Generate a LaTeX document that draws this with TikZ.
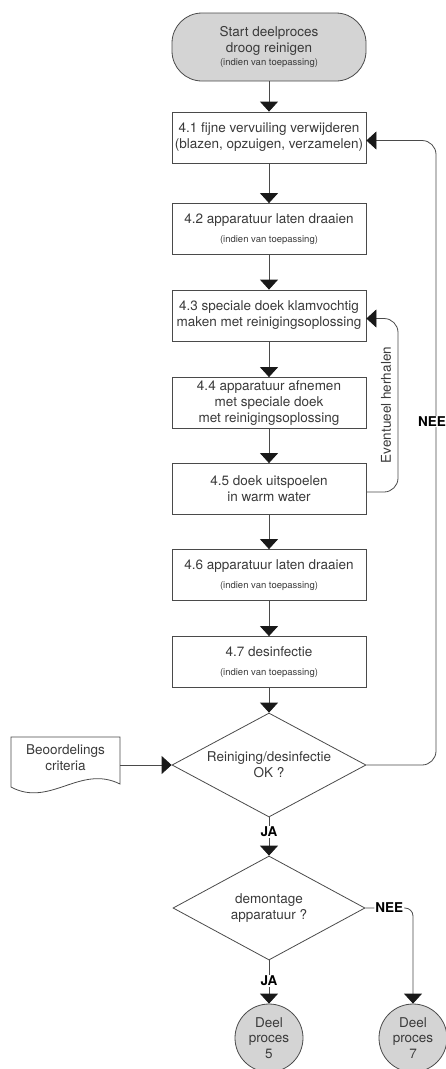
\documentclass[tikz,border=0pt]{standalone}
\usepackage{fontspec}
\setmainfont{TeX Gyre Heros}
\usetikzlibrary{arrows.meta,shapes.geometric}
\definecolor{ink}{HTML}{3A3A3A}
\definecolor{edge}{HTML}{4A4A4A}
\definecolor{shade}{HTML}{D4D4D4}
\newcommand{\smalltxt}[1]{{\fontsize{9.5}{11}\selectfont #1}}
\begin{document}
\begin{tikzpicture}[x=1pt,y=-1pt,
  every node/.style={font=\fontsize{13.5}{16}\selectfont, text=ink},
  stepbox/.style={draw=edge, line width=0.8pt, minimum width=194pt, minimum height=51pt,
    align=center, inner sep=0pt},
  termbox/.style={stepbox, fill=shade, minimum height=68pt, rounded corners=30pt},
  decision/.style={diamond, aspect=1.87, draw=edge, line width=0.8pt, minimum width=194pt,
    minimum height=104pt, inner sep=0pt, align=center},
  endcircle/.style={circle, draw=edge, line width=0.8pt, fill=shade, minimum size=68pt,
    inner sep=0pt, align=center, font=\fontsize{13.5}{15.5}\selectfont},
  flow/.style={draw=edge, line width=0.8pt, -{Triangle[width=18pt,length=10pt,color=black!90]}},
  lbl/.style={fill=white, inner sep=1pt, font=\bfseries\fontsize{13.5}{16}\selectfont, text=black}
]
\useasboundingbox (0,0) rectangle (445,1069);

% main column
\node[termbox] (start) at (269,47) {Start deelproces\\droog reinigen\\[-3pt]\smalltxt{(indien van toepassing)}};
\node[stepbox] (b41) at (269,137.5) {4.1 fijne vervuiling verwijderen\\(blazen, opzuigen, verzamelen)};
\node[stepbox] (b42) at (269,229) {4.2 apparatuur laten draaien\\[3pt]\smalltxt{(indien van toepassing)}};
\node[stepbox] (b43) at (269,315.5) {4.3 speciale doek klamvochtig\\maken met reinigingsoplossing};
\node[stepbox] (b44) at (269,403) {4.4 apparatuur afnemen\\met speciale doek\\met reinigingsoplossing};
\node[stepbox] (b45) at (269,489) {4.5 doek uitspoelen\\in warm water};
\node[stepbox] (b46) at (269,575) {4.6 apparatuur laten draaien\\[3pt]\smalltxt{(indien van toepassing)}};
\node[stepbox] (b47) at (269,662) {4.7 desinfectie\\[3pt]\smalltxt{(indien van toepassing)}};
\node[decision] (d1) at (269,765) {Reiniging/desinfectie\\OK ?};
\node[decision, minimum width=192pt] (d2) at (269,908) {demontage\\apparatuur ?};
\node[endcircle] (c5) at (269,1038) {Deel\\proces\\5};
\node[endcircle] (c7) at (413,1038) {Deel\\proces\\7};

% assessment criteria document
\node[align=center] (doc) at (65.5,758) {Beoordelings\\criteria};
\draw[edge, line width=0.8pt] (11,737) -- (120,737) -- (120,784)
  .. controls (80,764) and (50,808) .. (11,787) -- cycle;
\coordinate (docR) at (120,765);
\draw[flow] (docR) -- (d1.west);

% straight flow
\draw[flow] (start) -- (b41);
\draw[flow] (b41) -- (b42);
\draw[flow] (b42) -- (b43);
\draw[flow] (b43) -- (b44);
\draw[flow] (b44) -- (b45);
\draw[flow] (b45) -- (b46);
\draw[flow] (b46) -- (b47);
\draw[flow] (b47) -- (d1);
\draw[flow] (d1) -- node[lbl, pos=0.38] {JA} (d2);
\draw[flow] (d2) -- node[lbl, pos=0.48] {JA} (c5);
\draw[flow, rounded corners=8pt] (d2.east) -- node[lbl] {NEE} (c7 |- d2.east) -- (c7);

% repeat loop
\coordinate (rep) at (398,0);
\draw[flow, rounded corners=14pt] ([yshift=-3pt]b45.east) -- ([yshift=-3pt]b45.east -| rep)
  -- ([yshift=-3pt]b43.east -| rep) -- ([yshift=-3pt]b43.east);
\node[rotate=90] (rep-lbl) at (386,405) {Eventueel herhalen};

% back to 4.1 when not OK
\coordinate (back) at (436,0);
\draw[flow, rounded corners=14pt] (d1.east) -- (d1.east -| back)
  -- node[lbl, pos=0.55, xshift=-4pt] {NEE} ([yshift=-3pt]b41.east -| back) -- ([yshift=-3pt]b41.east);
\end{tikzpicture}
\end{document}
